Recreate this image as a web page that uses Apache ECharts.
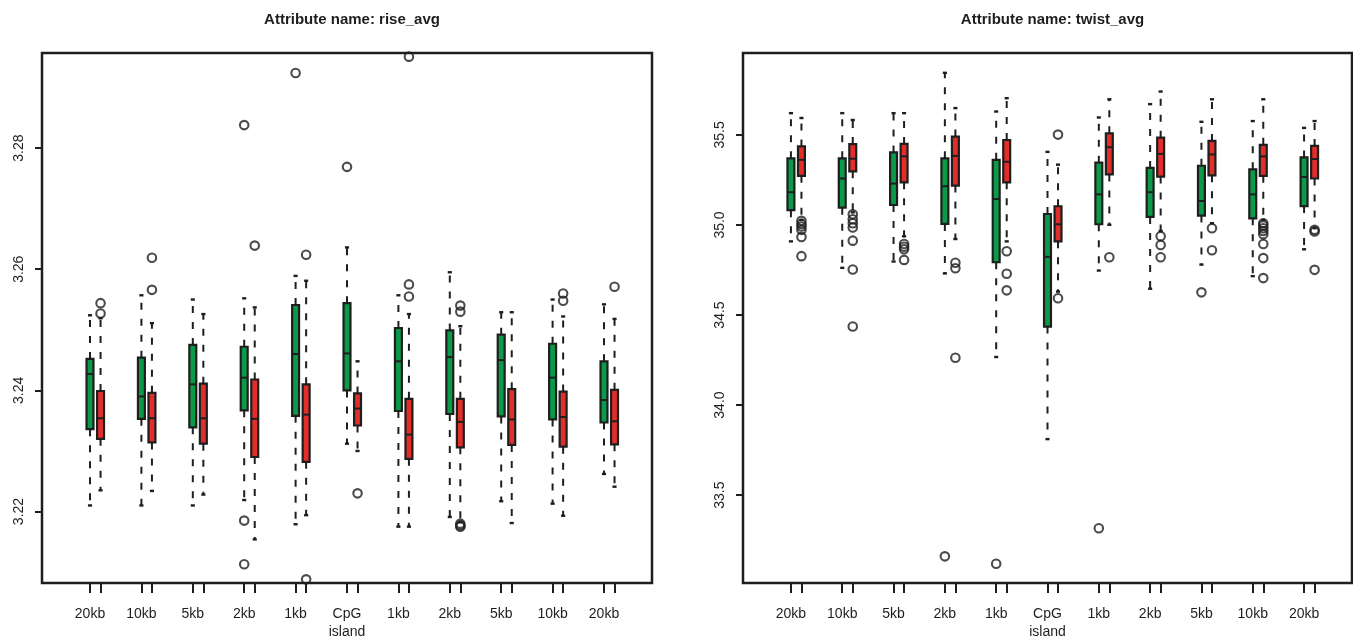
<!DOCTYPE html>
<html>
<head>
<meta charset="utf-8">
<script src="https://cdn.jsdelivr.net/npm/echarts@6/dist/echarts.min.js"></script>
<style>
html,body{margin:0;padding:0;background:#fff;}
#chart{width:1353px;height:641px;}
</style>
</head>
<body>
<div id="chart"></div>
<script>
// ---------- data ----------
const categories = ['20kb','10kb','5kb','2kb','1kb','CpG\nisland','1kb','2kb','5kb','10kb','20kb'];
const titles = ['Attribute name: rise_avg', 'Attribute name: twist_avg'];
const riseTicks = [3.22, 3.24, 3.26, 3.28];
const twistTicks = [33.5, 34.0, 34.5, 35.0, 35.5];

// [lower whisker, Q1, median, Q3, upper whisker]
const riseGreen = [
  [3.2210,3.2336,3.2427,3.2452,3.2524],
  [3.2210,3.2353,3.2390,3.2454,3.2557],
  [3.2210,3.2339,3.2410,3.2475,3.2550],
  [3.2219,3.2367,3.2421,3.2472,3.2552],
  [3.2179,3.2358,3.2460,3.2541,3.2589],
  [3.2312,3.2400,3.2461,3.2544,3.2636],
  [3.2175,3.2366,3.2448,3.2503,3.2557],
  [3.2191,3.2361,3.2455,3.2499,3.2595],
  [3.2217,3.2357,3.2450,3.2492,3.2529],
  [3.2213,3.2352,3.2421,3.2477,3.2550],
  [3.2262,3.2347,3.2384,3.2448,3.2542]
];
const riseRed = [
  [3.2235,3.2320,3.2354,3.2399,3.2519],
  [3.2234,3.2314,3.2354,3.2396,3.2511],
  [3.2228,3.2312,3.2354,3.2411,3.2526],
  [3.2154,3.2290,3.2353,3.2418,3.2537],
  [3.2194,3.2282,3.2360,3.2410,3.2581],
  [3.2300,3.2342,3.2370,3.2395,3.2448],
  [3.2175,3.2287,3.2327,3.2386,3.2526],
  [3.2183,3.2306,3.2348,3.2386,3.2506],
  [3.2181,3.2310,3.2352,3.2402,3.2529],
  [3.2193,3.2307,3.2356,3.2398,3.2522],
  [3.2241,3.2311,3.2349,3.2401,3.2518]
];
const riseGreenOut = [[],[],[],[3.2838,3.2185,3.2113],[3.2924],[3.2769],[],[],[],[],[]];
const riseRedOut = [
  [3.2544,3.2527],[3.2619,3.2566],[],[3.2639],[3.2624,3.2088],[3.2230],
  [3.2951,3.2575,3.2555],[3.2540,3.2530,3.2180,3.2177,3.2175],[],[3.2560,3.2548],[3.2571]
];

const twistGreen = [
  [34.909,35.082,35.182,35.370,35.621],
  [34.762,35.096,35.258,35.370,35.621],
  [34.797,35.111,35.230,35.403,35.621],
  [34.731,35.006,35.215,35.370,35.845],
  [34.267,34.793,35.144,35.362,35.630],
  [33.811,34.436,34.823,35.061,35.406],
  [34.747,35.004,35.170,35.346,35.597],
  [34.646,35.045,35.182,35.317,35.671],
  [34.780,35.052,35.133,35.329,35.573],
  [34.716,35.037,35.170,35.309,35.577],
  [34.865,35.105,35.267,35.375,35.539]
];
const twistRed = [
  [35.028,35.273,35.362,35.436,35.594],
  [35.070,35.298,35.368,35.449,35.583],
  [34.937,35.237,35.381,35.450,35.621],
  [34.922,35.219,35.384,35.491,35.649],
  [34.909,35.237,35.351,35.472,35.704],
  [34.630,34.909,35.004,35.104,35.335],
  [35.001,35.281,35.432,35.509,35.698],
  [34.967,35.269,35.395,35.485,35.741],
  [35.010,35.276,35.392,35.467,35.698],
  [35.028,35.273,35.381,35.445,35.698],
  [34.982,35.258,35.366,35.439,35.577]
];
const twistGreenOut = [[],[],[],[33.160],[33.119],[],[33.316],[],[34.626],[],[]];
const twistRedOut = [
  [35.023,35.006,34.992,34.973,34.933,34.827],
  [35.059,35.032,35.010,34.986,34.913,34.753,34.436],
  [34.894,34.879,34.865,34.806],
  [34.790,34.760,34.263],
  [34.854,34.729,34.637],
  [35.502,34.593],
  [34.821],
  [34.938,34.889,34.821],
  [34.982,34.860],
  [35.010,34.997,34.982,34.967,34.949,34.894,34.816,34.705],
  [34.973,34.964,34.751]
];

// ---------- styling / layout ----------
const GREEN = '#0b9a48';
const RED = '#e22e2b';
const INK = '#1e1e1e';
const RED_OFF = 0.205;   // position offset of red box inside a group
const BOX_W = 0.135;
const CAP_W = 0.08;
const FONT = '"Liberation Sans", Arial, Helvetica, sans-serif';

const panels = [
  {green: riseGreen, red: riseRed, gOut: riseGreenOut, rOut: riseRedOut, ticks: riseTicks,
   ymin: 3.2082, ymax: 3.2957, left: 42, width: 610, fmt: v => v.toFixed(2)},
  {green: twistGreen, red: twistRed, gOut: twistGreenOut, rOut: twistRedOut, ticks: twistTicks,
   ymin: 33.012, ymax: 35.955, left: 743, width: 609, fmt: v => v.toFixed(1)}
];

function renderBox(params, api) {
  const x = api.value(0);
  const lo = api.coord([x, api.value(1)]);
  const q1 = api.coord([x, api.value(2)]);
  const md = api.coord([x, api.value(3)]);
  const q3 = api.coord([x, api.value(4)]);
  const hi = api.coord([x, api.value(5)]);
  const hw = api.size([BOX_W, 0])[0] / 2;
  const cw = api.size([CAP_W, 0])[0] / 2;
  const cx = lo[0];
  const color = api.visual('color');
  const dash = {stroke: INK, lineWidth: 2, lineDash: [7, 9]};
  const solid = {stroke: INK, lineWidth: 2.4};
  return {
    type: 'group',
    children: [
      {type: 'line', shape: {x1: cx, y1: q1[1], x2: cx, y2: lo[1]}, style: dash},
      {type: 'line', shape: {x1: cx, y1: q3[1], x2: cx, y2: hi[1]}, style: dash},
      {type: 'line', shape: {x1: cx - cw, y1: lo[1], x2: cx + cw, y2: lo[1]}, style: solid},
      {type: 'line', shape: {x1: cx - cw, y1: hi[1], x2: cx + cw, y2: hi[1]}, style: solid},
      {type: 'rect', shape: {x: cx - hw, y: q3[1], width: 2 * hw, height: q1[1] - q3[1]},
       style: {fill: color, stroke: INK, lineWidth: 2.2}},
      {type: 'line', shape: {x1: cx - hw, y1: md[1], x2: cx + hw, y2: md[1]}, style: {stroke: INK, lineWidth: 2}}
    ]
  };
}

const grids = [], xAxes = [], yAxes = [], series = [], titleOpts = [];
panels.forEach((p, k) => {
  grids.push({left: p.left, top: 53, width: p.width, height: 535, show: true,
    borderColor: INK, borderWidth: 2.5, backgroundColor: 'transparent'});
  const tickPos = [];
  categories.forEach((c, i) => { tickPos.push(i, i + RED_OFF); });
  xAxes.push({
    type: 'value', gridIndex: k, min: -0.934, max: 10.934, position: 'bottom',
    splitLine: {show: false}, axisLine: {show: false, onZero: false},
    axisTick: {show: true, customValues: tickPos, length: 10, lineStyle: {color: INK, width: 2}},
    axisLabel: {show: true, customValues: categories.map((c, i) => i), margin: 22,
      formatter: v => categories[Math.round(v)], color: INK, fontSize: 14, lineHeight: 18, fontFamily: FONT}
  });
  yAxes.push({
    type: 'value', gridIndex: k, min: p.ymin, max: p.ymax, position: 'left',
    splitLine: {show: false}, axisLine: {show: false, onZero: false},
    axisTick: {show: true, customValues: p.ticks, length: 7, lineStyle: {color: INK, width: 2}},
    axisLabel: {show: true, customValues: p.ticks, rotate: 90, margin: 16, formatter: p.fmt,
      color: INK, fontSize: 14, fontFamily: FONT}
  });
  const gData = p.green.map((s, i) => [i].concat(s));
  const rData = p.red.map((s, i) => [i + RED_OFF].concat(s));
  series.push({type: 'custom', xAxisIndex: k, yAxisIndex: k, renderItem: renderBox,
    itemStyle: {color: GREEN}, data: gData, encode: {x: 0, y: [1, 2, 3, 4, 5]}, clip: false});
  series.push({type: 'custom', xAxisIndex: k, yAxisIndex: k, renderItem: renderBox,
    itemStyle: {color: RED}, data: rData, encode: {x: 0, y: [1, 2, 3, 4, 5]}, clip: false});
  const outs = [];
  p.gOut.forEach((arr, i) => arr.forEach(v => outs.push([i, v])));
  p.rOut.forEach((arr, i) => arr.forEach(v => outs.push([i + RED_OFF, v])));
  series.push({type: 'scatter', xAxisIndex: k, yAxisIndex: k, data: outs, symbol: 'circle', symbolSize: 8.5,
    itemStyle: {color: 'rgba(0,0,0,0)', borderColor: INK, borderWidth: 2.1}, z: 5});
  titleOpts.push({text: titles[k], left: p.left + p.width / 2, top: 7, textAlign: 'center',
    textStyle: {fontSize: 15, fontWeight: 'bold', color: INK, fontFamily: FONT}});
});

const chart = echarts.init(document.getElementById('chart'), null, {renderer: 'canvas'});
chart.setOption({
  animation: false,
  backgroundColor: '#ffffff',
  title: titleOpts,
  grid: grids,
  xAxis: xAxes,
  yAxis: yAxes,
  series: series
});
</script>
</body>
</html>
